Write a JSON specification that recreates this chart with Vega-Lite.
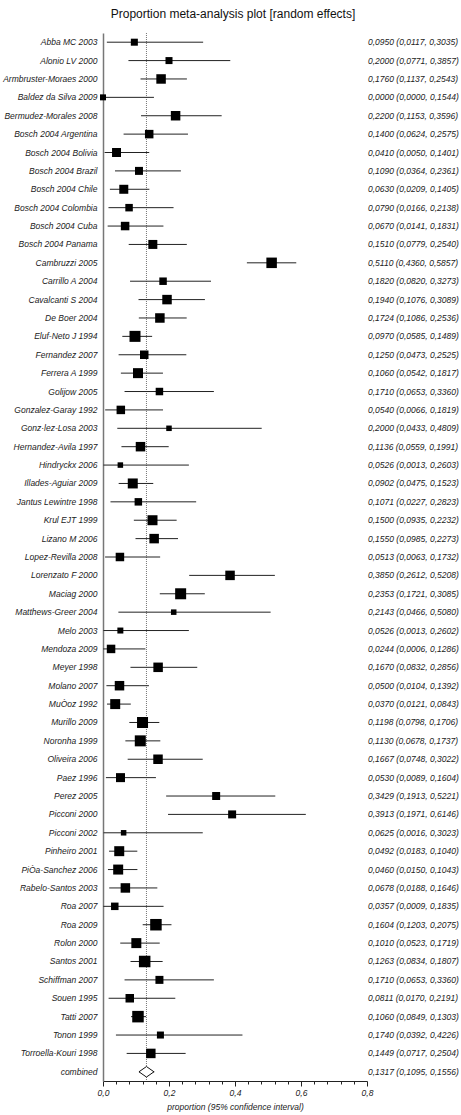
{
  "$schema": "https://vega.github.io/schema/vega-lite/v6.json",
  "autosize": {"type": "none"},
  "padding": {"left": 103, "top": 33, "right": 94, "bottom": 34},
  "width": 264,
  "height": 1048,
  "background": "white",
  "title": {"text": "Proportion meta-analysis plot [random effects]", "font": "Liberation Sans", "fontSize": 12, "fontWeight": "normal", "color": "#111", "offset": 12, "anchor": "middle", "dx": -2},
  "config": {"view": {"stroke": null}},
  "resolve": {"axis": {"x": "independent"}},
  "data": {"values": [
    {"study": "Abba MC 2003", "est": 0.0950, "lo": 0.0117, "hi": 0.3035, "ci": "0,0950 (0,0117, 0,3035)", "w": 1.07},
    {"study": "Alonio LV 2000", "est": 0.2000, "lo": 0.0771, "hi": 0.3857, "ci": "0,2000 (0,0771, 0,3857)", "w": 1.07},
    {"study": "Armbruster-Moraes 2000", "est": 0.1760, "lo": 0.1137, "hi": 0.2543, "ci": "0,1760 (0,1137, 0,2543)", "w": 1.96},
    {"study": "Baldez da Silva 2009", "est": 0.0000, "lo": 0.0000, "hi": 0.1544, "ci": "0,0000 (0,0000, 0,1544)", "w": 0.78},
    {"study": "Bermudez-Morales 2008", "est": 0.2200, "lo": 0.1153, "hi": 0.3596, "ci": "0,2200 (0,1153, 0,3596)", "w": 1.96},
    {"study": "Bosch 2004 Argentina", "est": 0.1400, "lo": 0.0624, "hi": 0.2575, "ci": "0,1400 (0,0624, 0,2575)", "w": 1.57},
    {"study": "Bosch 2004 Bolivia", "est": 0.0410, "lo": 0.0050, "hi": 0.1401, "ci": "0,0410 (0,0050, 0,1401)", "w": 1.76},
    {"study": "Bosch 2004 Brazil", "est": 0.1090, "lo": 0.0364, "hi": 0.2361, "ci": "0,1090 (0,0364, 0,2361)", "w": 1.39},
    {"study": "Bosch 2004 Chile", "est": 0.0630, "lo": 0.0209, "hi": 0.1405, "ci": "0,0630 (0,0209, 0,1405)", "w": 1.76},
    {"study": "Bosch 2004 Colombia", "est": 0.0790, "lo": 0.0166, "hi": 0.2138, "ci": "0,0790 (0,0166, 0,2138)", "w": 1.22},
    {"study": "Bosch 2004 Cuba", "est": 0.0670, "lo": 0.0141, "hi": 0.1831, "ci": "0,0670 (0,0141, 0,1831)", "w": 1.57},
    {"study": "Bosch 2004 Panama", "est": 0.1510, "lo": 0.0779, "hi": 0.2540, "ci": "0,1510 (0,0779, 0,2540)", "w": 1.76},
    {"study": "Cambruzzi 2005", "est": 0.5110, "lo": 0.4360, "hi": 0.5857, "ci": "0,5110 (0,4360, 0,5857)", "w": 2.40},
    {"study": "Carrillo A 2004", "est": 0.1820, "lo": 0.0820, "hi": 0.3273, "ci": "0,1820 (0,0820, 0,3273)", "w": 1.22},
    {"study": "Cavalcanti S 2004", "est": 0.1940, "lo": 0.1076, "hi": 0.3089, "ci": "0,1940 (0,1076, 0,3089)", "w": 1.96},
    {"study": "De Boer 2004", "est": 0.1724, "lo": 0.1086, "hi": 0.2536, "ci": "0,1724 (0,1086, 0,2536)", "w": 1.96},
    {"study": "Eluf-Neto J 1994", "est": 0.0970, "lo": 0.0585, "hi": 0.1489, "ci": "0,0970 (0,0585, 0,1489)", "w": 2.63},
    {"study": "Fernandez 2007", "est": 0.1250, "lo": 0.0473, "hi": 0.2525, "ci": "0,1250 (0,0473, 0,2525)", "w": 1.57},
    {"study": "Ferrera A 1999", "est": 0.1060, "lo": 0.0542, "hi": 0.1817, "ci": "0,1060 (0,0542, 0,1817)", "w": 2.17},
    {"study": "Golijow 2005", "est": 0.1710, "lo": 0.0653, "hi": 0.3360, "ci": "0,1710 (0,0653, 0,3360)", "w": 1.22},
    {"study": "Gonzalez-Garay 1992", "est": 0.0540, "lo": 0.0066, "hi": 0.1819, "ci": "0,0540 (0,0066, 0,1819)", "w": 1.57},
    {"study": "Gonz·lez-Losa 2003", "est": 0.2000, "lo": 0.0433, "hi": 0.4809, "ci": "0,2000 (0,0433, 0,4809)", "w": 0.66},
    {"study": "Hernandez-Avila 1997", "est": 0.1136, "lo": 0.0559, "hi": 0.1991, "ci": "0,1136 (0,0559, 0,1991)", "w": 1.96},
    {"study": "Hindryckx 2006", "est": 0.0526, "lo": 0.0013, "hi": 0.2603, "ci": "0,0526 (0,0013, 0,2603)", "w": 0.66},
    {"study": "Illades-Aguiar 2009", "est": 0.0902, "lo": 0.0475, "hi": 0.1523, "ci": "0,0902 (0,0475, 0,1523)", "w": 2.17},
    {"study": "Jantus Lewintre 1998", "est": 0.1071, "lo": 0.0227, "hi": 0.2823, "ci": "0,1071 (0,0227, 0,2823)", "w": 1.22},
    {"study": "Krul EJT 1999", "est": 0.1500, "lo": 0.0935, "hi": 0.2232, "ci": "0,1500 (0,0935, 0,2232)", "w": 2.17},
    {"study": "Lizano M 2006", "est": 0.1550, "lo": 0.0985, "hi": 0.2273, "ci": "0,1550 (0,0985, 0,2273)", "w": 1.96},
    {"study": "Lopez-Revilla 2008", "est": 0.0513, "lo": 0.0063, "hi": 0.1732, "ci": "0,0513 (0,0063, 0,1732)", "w": 1.57},
    {"study": "Lorenzato F 2000", "est": 0.3850, "lo": 0.2612, "hi": 0.5208, "ci": "0,3850 (0,2612, 0,5208)", "w": 1.96},
    {"study": "Maciag 2000", "est": 0.2353, "lo": 0.1721, "hi": 0.3085, "ci": "0,2353 (0,1721, 0,3085)", "w": 2.63},
    {"study": "Matthews-Greer 2004", "est": 0.2143, "lo": 0.0466, "hi": 0.5080, "ci": "0,2143 (0,0466, 0,5080)", "w": 0.66},
    {"study": "Melo 2003", "est": 0.0526, "lo": 0.0013, "hi": 0.2602, "ci": "0,0526 (0,0013, 0,2602)", "w": 0.78},
    {"study": "Mendoza 2009", "est": 0.0244, "lo": 0.0006, "hi": 0.1286, "ci": "0,0244 (0,0006, 0,1286)", "w": 1.57},
    {"study": "Meyer 1998", "est": 0.1670, "lo": 0.0832, "hi": 0.2856, "ci": "0,1670 (0,0832, 0,2856)", "w": 1.96},
    {"study": "Molano 2007", "est": 0.0500, "lo": 0.0104, "hi": 0.1392, "ci": "0,0500 (0,0104, 0,1392)", "w": 1.96},
    {"study": "MuÒoz 1992", "est": 0.0370, "lo": 0.0121, "hi": 0.0843, "ci": "0,0370 (0,0121, 0,0843)", "w": 2.17},
    {"study": "Murillo 2009", "est": 0.1198, "lo": 0.0798, "hi": 0.1706, "ci": "0,1198 (0,0798, 0,1706)", "w": 2.63},
    {"study": "Noronha 1999", "est": 0.1130, "lo": 0.0678, "hi": 0.1737, "ci": "0,1130 (0,0678, 0,1737)", "w": 2.63},
    {"study": "Oliveira 2006", "est": 0.1667, "lo": 0.0748, "hi": 0.3022, "ci": "0,1667 (0,0748, 0,3022)", "w": 1.96},
    {"study": "Paez 1996", "est": 0.0530, "lo": 0.0089, "hi": 0.1604, "ci": "0,0530 (0,0089, 0,1604)", "w": 1.76},
    {"study": "Perez 2005", "est": 0.3429, "lo": 0.1913, "hi": 0.5221, "ci": "0,3429 (0,1913, 0,5221)", "w": 1.39},
    {"study": "Picconi 2000", "est": 0.3913, "lo": 0.1971, "hi": 0.6146, "ci": "0,3913 (0,1971, 0,6146)", "w": 1.39},
    {"study": "Picconi 2002", "est": 0.0625, "lo": 0.0016, "hi": 0.3023, "ci": "0,0625 (0,0016, 0,3023)", "w": 0.66},
    {"study": "Pinheiro 2001", "est": 0.0492, "lo": 0.0183, "hi": 0.1040, "ci": "0,0492 (0,0183, 0,1040)", "w": 2.17},
    {"study": "PiÒa-Sanchez 2006", "est": 0.0460, "lo": 0.0150, "hi": 0.1043, "ci": "0,0460 (0,0150, 0,1043)", "w": 2.17},
    {"study": "Rabelo-Santos 2003", "est": 0.0678, "lo": 0.0188, "hi": 0.1646, "ci": "0,0678 (0,0188, 0,1646)", "w": 1.96},
    {"study": "Roa 2007", "est": 0.0357, "lo": 0.0009, "hi": 0.1835, "ci": "0,0357 (0,0009, 0,1835)", "w": 1.22},
    {"study": "Roa 2009", "est": 0.1604, "lo": 0.1203, "hi": 0.2075, "ci": "0,1604 (0,1203, 0,2075)", "w": 2.88},
    {"study": "Rolon 2000", "est": 0.1010, "lo": 0.0523, "hi": 0.1719, "ci": "0,1010 (0,0523, 0,1719)", "w": 2.17},
    {"study": "Santos 2001", "est": 0.1263, "lo": 0.0834, "hi": 0.1807, "ci": "0,1263 (0,0834, 0,1807)", "w": 2.88},
    {"study": "Schiffman 2007", "est": 0.1710, "lo": 0.0653, "hi": 0.3360, "ci": "0,1710 (0,0653, 0,3360)", "w": 1.39},
    {"study": "Souen 1995", "est": 0.0811, "lo": 0.0170, "hi": 0.2191, "ci": "0,0811 (0,0170, 0,2191)", "w": 1.57},
    {"study": "Tatti 2007", "est": 0.1060, "lo": 0.0849, "hi": 0.1303, "ci": "0,1060 (0,0849, 0,1303)", "w": 2.88},
    {"study": "Tonon 1999", "est": 0.1740, "lo": 0.0392, "hi": 0.4226, "ci": "0,1740 (0,0392, 0,4226)", "w": 1.07},
    {"study": "Torroella-Kouri 1998", "est": 0.1449, "lo": 0.0717, "hi": 0.2504, "ci": "0,1449 (0,0717, 0,2504)", "w": 1.96},
    {"study": "combined", "est": 0.1317, "lo": 0.1095, "hi": 0.1556, "ci": "0,1317 (0,1095, 0,1556)", "w": null}
  ]},
  "encoding": {
    "y": {"field": "study", "type": "nominal", "sort": null,
      "scale": {"paddingInner": 0, "paddingOuter": 0},
      "axis": {"title": null, "ticks": false, "tickSize": 0, "labelPadding": 6, "labelFont": "Liberation Sans", "labelFontSize": 8.5, "labelFontStyle": "italic", "labelColor": "#222", "labelLimit": 200, "domainColor": "#777", "domainWidth": 1.5, "grid": false}}
  },
  "layer": [
    {
      "transform": [{"filter": "datum.study === 'combined'"}],
      "mark": {"type": "rule", "color": "#777", "strokeDash": [1, 1], "strokeWidth": 1},
      "encoding": {"y": null, "x": {"field": "est", "type": "quantitative", "axis": null}}
    },
    {
      "mark": {"type": "rule", "color": "#222", "strokeWidth": 1},
      "encoding": {
        "x": {"field": "lo", "type": "quantitative", "scale": {"domain": [0, 0.8], "nice": false},
          "axis": {"orient": "bottom", "title": "proportion (95% confidence interval)", "titleFont": "Liberation Sans", "titleFontSize": 8.5, "titleFontStyle": "italic", "titleFontWeight": "normal", "titleColor": "#222", "titlePadding": 6,
            "values": [0, 0.04, 0.08, 0.12, 0.16, 0.2, 0.24, 0.28, 0.32, 0.36, 0.4, 0.44, 0.48, 0.52, 0.56, 0.6, 0.64, 0.68, 0.72, 0.76, 0.8],
            "labelExpr": "abs(datum.value*5 - round(datum.value*5)) < 0.001 ? replace(format(datum.value, '.1f'), '.', ',') : ''",
            "labelFont": "Liberation Sans", "labelFontSize": 8.5, "labelFontStyle": "italic", "labelColor": "#222", "labelPadding": 2,
            "tickSize": {"condition": {"test": "abs(datum.value*5 - round(datum.value*5)) < 0.001", "value": 5}, "value": 3},
            "tickColor": "#222", "domainColor": "#222", "grid": false, "labelFlush": false, "labelOverlap": false, "labelBound": false}},
        "x2": {"field": "hi"}
      }
    },
    {
      "transform": [{"filter": "datum.study !== 'combined'"}],
      "mark": {"type": "point", "shape": "square", "filled": true, "color": "#000", "opacity": 1, "strokeWidth": 0},
      "encoding": {
        "x": {"field": "est", "type": "quantitative", "axis": null},
        "size": {"field": "w", "type": "quantitative", "scale": {"domain": [0, 3], "range": [0, 138], "zero": true}, "legend": null}
      }
    },
    {
      "transform": [{"filter": "datum.study === 'combined'"}],
      "mark": {"type": "point", "shape": "M-1,0L0,-0.7L1,0L0,0.7Z", "filled": true, "fill": "white", "stroke": "#111", "strokeWidth": 1, "opacity": 1, "size": 225},
      "encoding": {"x": {"field": "est", "type": "quantitative", "axis": null}}
    },
    {
      "mark": {"type": "text", "align": "left", "baseline": "middle", "dx": 1, "font": "Liberation Sans", "fontSize": 8.5, "fontStyle": "italic", "color": "#222"},
      "encoding": {"x": {"datum": 0.8, "axis": null}, "text": {"field": "ci"}}
    }
  ]
}
